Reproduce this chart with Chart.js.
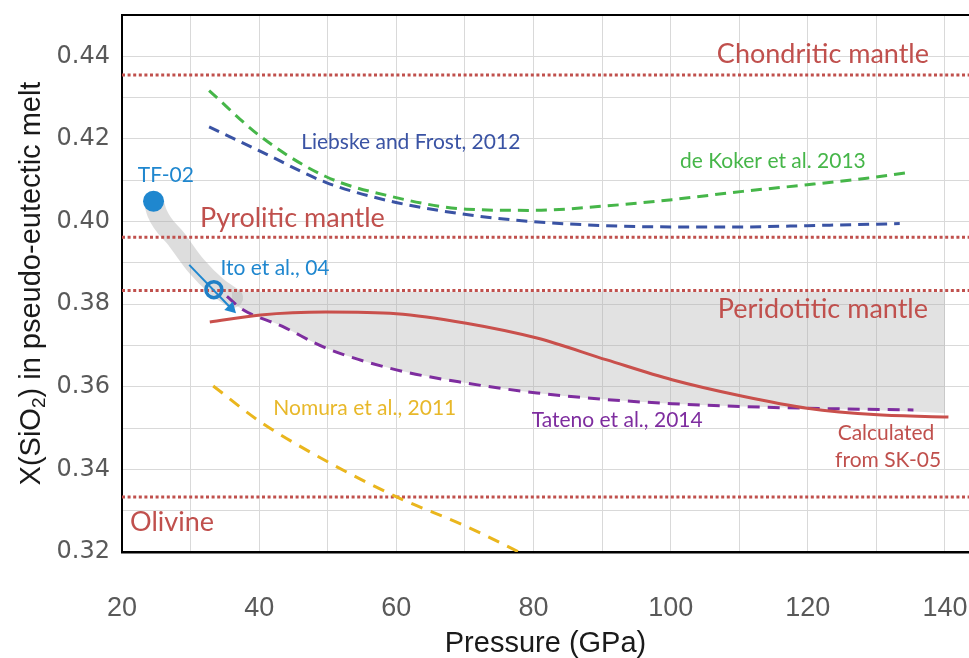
<!DOCTYPE html>
<html>
<head>
<meta charset="utf-8">
<script src="https://cdn.jsdelivr.net/npm/chart.js@4.4.1/dist/chart.umd.min.js"></script>
<style>
html,body{margin:0;padding:0;background:#fff}
#wrap{width:969px;height:658px}
</style>
</head>
<body>
<div id="wrap"><canvas id="c" width="969" height="658"></canvas></div>
<script>
// tick labels
const xTickLabels = [20, 40, 60, 80, 100, 120, 140];
const yTickLabels = ['0.32', '0.34', '0.36', '0.38', '0.40', '0.42', '0.44'];

// reference compositions (dotted lines)
const refNames = ['Chondritic mantle', 'Pyrolitic mantle', 'Peridotitic mantle', 'Olivine'];
const refValues = [0.4355, 0.3962, 0.3833, 0.3333];

// de Koker et al. 2013
const pKoker = [32.7, 40.2, 49.7, 59.2, 70.2, 79.7, 90.7, 100.2, 110.5, 119.9, 128.6, 134.9];
const xKoker = [0.4317, 0.4206, 0.4109, 0.4061, 0.4030, 0.4027, 0.4038, 0.4053, 0.4073, 0.4089, 0.4105, 0.4119];

// Liebske and Frost, 2012
const pLiebske = [32.7, 40.2, 49.7, 59.2, 70.2, 79.7, 90.7, 100.2, 110.5, 119.9, 133.4];
const xLiebske = [0.4229, 0.4170, 0.4095, 0.4049, 0.4017, 0.4000, 0.3990, 0.3987, 0.3987, 0.3990, 0.3995];

// Tateno et al., 2014
const pTateno = [35.3, 37.5, 43.4, 49.7, 60.0, 70.2, 80.5, 90.7, 100.2, 110.5, 119.9, 135.4];
const xTateno = [0.3819, 0.3788, 0.3746, 0.3694, 0.3641, 0.3609, 0.3585, 0.3569, 0.3559, 0.3552, 0.3548, 0.3544];

// Calculated from SK-05
const pSK05 = [32.8, 40.2, 49.7, 60.0, 70.2, 80.5, 90.7, 100.2, 110.5, 119.9, 130.2, 140.5];
const xSK05 = [0.3757, 0.3774, 0.3781, 0.3777, 0.3754, 0.3718, 0.3665, 0.3617, 0.3577, 0.3548, 0.3532, 0.3527];

// Nomura et al., 2011
const pNomura = [33.3, 40.1, 50.8, 60.5, 70.2, 78.0];
const xNomura = [0.3602, 0.3516, 0.3411, 0.3330, 0.3262, 0.3199];

// experiments
const pTF02 = [24.6], xTF02 = [0.4049];
const pIto = [33.4], xIto = [0.3835];
const pArrow = [29.8, 35.9], xArrow = [0.3895, 0.3790];

// grey trend band
const pBandPath = [24.6, 25.1, 28.0, 30.9, 33.8, 36.2];
const xBandPath = [0.4049, 0.4021, 0.3956, 0.3891, 0.3843, 0.3815];
const pBandTop = [36.0, 140.0];
const xBandTop = [0.3830, 0.3830];
const pBandLow = [36.0, 37.5, 43.4, 49.7, 60.0, 70.2, 80.5, 90.7, 100.2, 110.5, 119.9, 135.4, 140.0];
const xBandLow = [0.3805, 0.3788, 0.3746, 0.3694, 0.3641, 0.3609, 0.3585, 0.3569, 0.3559, 0.3552, 0.3548, 0.3540, 0.3536];

const RED = '#c0504d';
const notes = [
  {t: 'Chondritic mantle', x: 122.2, y: 0.4404, c: RED, big: true},
  {t: 'Pyrolitic mantle', x: 44.85, y: 0.4009, c: RED, big: true},
  {t: 'Peridotitic mantle', x: 122.2, y: 0.3787, c: RED, big: true},
  {t: 'Olivine', x: 27.3, y: 0.3273, c: RED, big: true},
  {t: 'TF-02', x: 26.4, y: 0.4113, c: '#1f87cf'},
  {t: 'Ito et al., 04', x: 42.3, y: 0.3888, c: '#1f87cf'},
  {t: 'Liebske and Frost, 2012', x: 62.1, y: 0.4193, c: '#3a53a4'},
  {t: 'de Koker et al. 2013', x: 114.9, y: 0.4145, c: '#46b649'},
  {t: 'Nomura et al., 2011', x: 55.4, y: 0.3548, c: '#e8b82a'},
  {t: 'Tateno et al., 2014', x: 92.2, y: 0.3520, c: '#7e2d9f'},
  {t: 'Calculated', x: 131.4, y: 0.3487, c: RED},
  {t: 'from SK-05', x: 131.7, y: 0.3423, c: RED}
];

function pts(px, py){ return px.map((p, i) => ({x: p, y: py[i]})); }

function dashed(data, color, dash, order){
  return {data: data, showLine: true, borderColor: color, borderWidth: 3, borderDash: dash,
    pointRadius: 0, tension: 0.4, cubicInterpolationMode: 'monotone', fill: false, order: order};
}

const datasets = [
  {data: pts(pTF02, xTF02), pointRadius: 10.5, pointBackgroundColor: '#1f87cf', pointBorderWidth: 0, order: 0},
  {data: pts(pIto, xIto), pointRadius: 8, pointBackgroundColor: 'rgba(0,0,0,0)', pointBorderColor: '#1f7fc6', pointBorderWidth: 3.5, order: 0},
  {data: pts(pArrow, xArrow), showLine: true, borderColor: '#1f87cf', borderWidth: 2,
    pointRadius: [0, 7], pointStyle: 'triangle', pointRotation: [0, 135], pointBackgroundColor: '#1f87cf', pointBorderWidth: 0, order: 0},
  {data: pts(pSK05, xSK05), showLine: true, borderColor: '#c9504c', borderWidth: 3, pointRadius: 0,
    tension: 0.4, cubicInterpolationMode: 'monotone', order: 1},
  dashed(pts(pTateno, xTateno), '#7e2d9f', [12, 8], 2),
  dashed(pts(pKoker, xKoker), '#46b649', [11, 7], 2),
  dashed(pts(pLiebske, xLiebske), '#3a53a4', [11, 7], 2),
  dashed(pts(pNomura, xNomura), '#eab61d', [12, 9], 2)
];
refValues.forEach(v => {
  datasets.push({data: [{x: 20, y: v}, {x: 143.5, y: v}], showLine: true, borderColor: RED,
    borderWidth: 3, borderDash: [3, 2.6], pointRadius: 0, order: 5});
});
const bandIdx = datasets.length;
datasets.push({data: pts(pBandTop, xBandTop), showLine: true, borderWidth: 0, pointRadius: 0,
  fill: bandIdx + 1, backgroundColor: 'rgba(170,170,170,0.34)', order: 8});
datasets.push({data: pts(pBandLow, xBandLow), showLine: true, borderWidth: 0, pointRadius: 0,
  tension: 0.4, cubicInterpolationMode: 'monotone', order: 8});
datasets.push({data: pts(pBandPath, xBandPath), showLine: true, borderColor: 'rgba(170,170,170,0.4)',
  borderWidth: 20, borderCapStyle: 'round', pointRadius: 0, tension: 0.4, cubicInterpolationMode: 'monotone', order: 9});

const decor = {
  id: 'decor',
  afterDatasetsDraw(chart){
    const {ctx, chartArea, scales} = chart;
    ctx.save();
    // top frame
    ctx.strokeStyle = '#000';
    ctx.lineWidth = 2;
    ctx.beginPath();
    ctx.moveTo(chartArea.left - 1, chartArea.top);
    ctx.lineTo(chartArea.right, chartArea.top);
    ctx.stroke();
    // notes
    ctx.textAlign = 'center';
    ctx.textBaseline = 'middle';
    notes.forEach(n => {
      ctx.font = (n.big ? '27px' : '21px') + " Lato, 'Noto Sans', sans-serif";
      ctx.fillStyle = n.c;
      ctx.fillText(n.t, scales.x.getPixelForValue(n.x), scales.y.getPixelForValue(n.y));
    });
    ctx.restore();
  },
  afterDraw(chart){
    // y axis title with subscript
    const {ctx, chartArea} = chart;
    const parts = [['X(SiO', 29, 0], ['2', 19, 8], [') in pseudo-eutectic melt', 29, 0]];
    ctx.save();
    ctx.translate(32, (chartArea.top + chartArea.bottom) / 2);
    ctx.rotate(-Math.PI / 2);
    ctx.fillStyle = '#1a1a1a';
    ctx.textBaseline = 'middle';
    ctx.textAlign = 'left';
    let total = 0;
    parts.forEach(p => { ctx.font = p[1] + "px 'Liberation Sans', Arial, sans-serif"; total += ctx.measureText(p[0]).width; });
    let x = -total / 2;
    parts.forEach(p => {
      ctx.font = p[1] + "px 'Liberation Sans', Arial, sans-serif";
      ctx.fillText(p[0], x, p[2]);
      x += ctx.measureText(p[0]).width;
    });
    ctx.restore();
  }
};

new Chart(document.getElementById('c'), {
  type: 'scatter',
  data: {datasets: datasets},
  options: {
    responsive: false,
    animation: false,
    layout: {autoPadding: false, padding: {top: 15, left: 0, right: 0, bottom: 0}},
    plugins: {legend: {display: false}, tooltip: {enabled: false}},
    elements: {point: {hoverRadius: 0}},
    scales: {
      x: {
        type: 'linear', min: 20, max: 143.5,
        grid: {color: '#d9d9d9', lineWidth: 1, drawTicks: false},
        border: {display: true, color: '#000', width: 2.5},
        ticks: {stepSize: 10, includeBounds: false, autoSkip: false, maxRotation: 0, padding: 40,
          color: '#595959', font: {family: "'Liberation Sans', Arial, sans-serif", size: 27},
          callback: v => xTickLabels.includes(v) ? String(v) : ''},
        title: {display: true, text: 'Pressure (GPa)', color: '#1a1a1a', padding: 0,
          font: {family: "'Liberation Sans', Arial, sans-serif", size: 29, lineHeight: 1}},
        afterFit: s => { s.height = 106; s.paddingLeft = 0; s.paddingRight = 0; }
      },
      y: {
        type: 'linear', min: 0.32, max: 0.45,
        grid: {color: '#d9d9d9', lineWidth: 1, drawTicks: false},
        border: {display: true, color: '#000', width: 2},
        ticks: {stepSize: 0.01, includeBounds: false, autoSkip: false, padding: 12,
          color: '#595959', font: {family: "'DejaVu Sans', sans-serif", size: 24},
          callback: v => { const s = v.toFixed(2); return yTickLabels.includes(s) ? s : ''; }},
        afterFit: s => { s.width = 122; s.paddingTop = 0; s.paddingBottom = 0; }
      }
    }
  },
  plugins: [decor]
});
</script>
</body>
</html>
